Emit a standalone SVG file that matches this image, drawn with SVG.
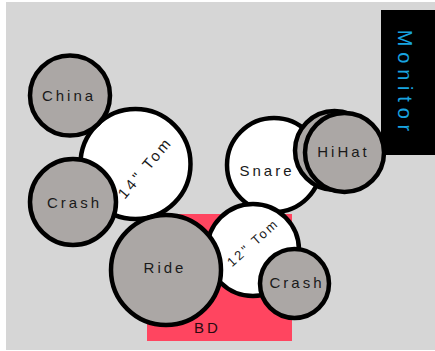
<svg xmlns="http://www.w3.org/2000/svg" width="435" height="351" viewBox="0 0 435 351">
<style>
.drum{fill:#ffffff;stroke:#000;stroke-width:4.5}
.cym{fill:#aba7a5;stroke:#000;stroke-width:4.5}
.lbl{font-family:"Liberation Sans",Arial,sans-serif;font-size:15px;letter-spacing:3px;fill:#1a1a1a}
</style>
<rect x="0" y="0" width="435" height="351" fill="#ffffff"/>
<rect x="6" y="2" width="429" height="348" fill="#d6d6d6"/>
<g id="bd">
<rect x="147" y="214" width="145" height="127" fill="#ff4560"/>
<text class="lbl" x="207.5" y="332.5" text-anchor="middle" style="fill:#2a0a10">BD</text>
</g>
<g id="snare">
<circle class="drum" cx="274" cy="165" r="47"/>
<text class="lbl" x="267" y="176" text-anchor="middle">Snare</text>
</g>
<g id="monitor">
<rect x="381" y="10" width="54" height="145" fill="#000"/>
<text x="0" y="0" transform="translate(397.5,80.5) rotate(90)" text-anchor="middle" style="font-family:'Liberation Sans',Arial,sans-serif;font-size:20px;letter-spacing:5.8px;fill:#18a4e0" dx="2.9">Monitor</text>
</g>
<g id="hihat">
<circle class="cym" cx="334.5" cy="150.5" r="39.5"/>
<circle class="cym" cx="344.5" cy="152.5" r="39.5"/>
<text class="lbl" x="343.5" y="157" text-anchor="middle">HiHat</text>
</g>
<g id="tom14">
<circle class="drum" cx="135.5" cy="164" r="55"/>
<text class="lbl" transform="translate(149,171) rotate(-50)" x="0" y="0" text-anchor="middle">14" Tom</text>
</g>
<g id="china">
<circle class="cym" cx="70" cy="95.5" r="40"/>
<text class="lbl" x="69" y="101" text-anchor="middle">China</text>
</g>
<g id="crash1">
<circle class="cym" cx="73" cy="202" r="43"/>
<text class="lbl" x="74.5" y="207.5" text-anchor="middle">Crash</text>
</g>
<g id="tom12">
<circle class="drum" cx="253" cy="250" r="46"/>
<text class="lbl" transform="translate(256,246) rotate(-42)" x="0" y="0" text-anchor="middle" style="font-size:13px;letter-spacing:2.5px">12" Tom</text>
</g>
<g id="crash2">
<circle class="cym" cx="294.5" cy="283.5" r="34.5"/>
<text class="lbl" x="297" y="287.5" text-anchor="middle">Crash</text>
</g>
<g id="ride">
<circle class="cym" cx="166" cy="270" r="55"/>
<text class="lbl" x="165" y="272.5" text-anchor="middle">Ride</text>
</g>
<g id="connectors"/>
</svg>
